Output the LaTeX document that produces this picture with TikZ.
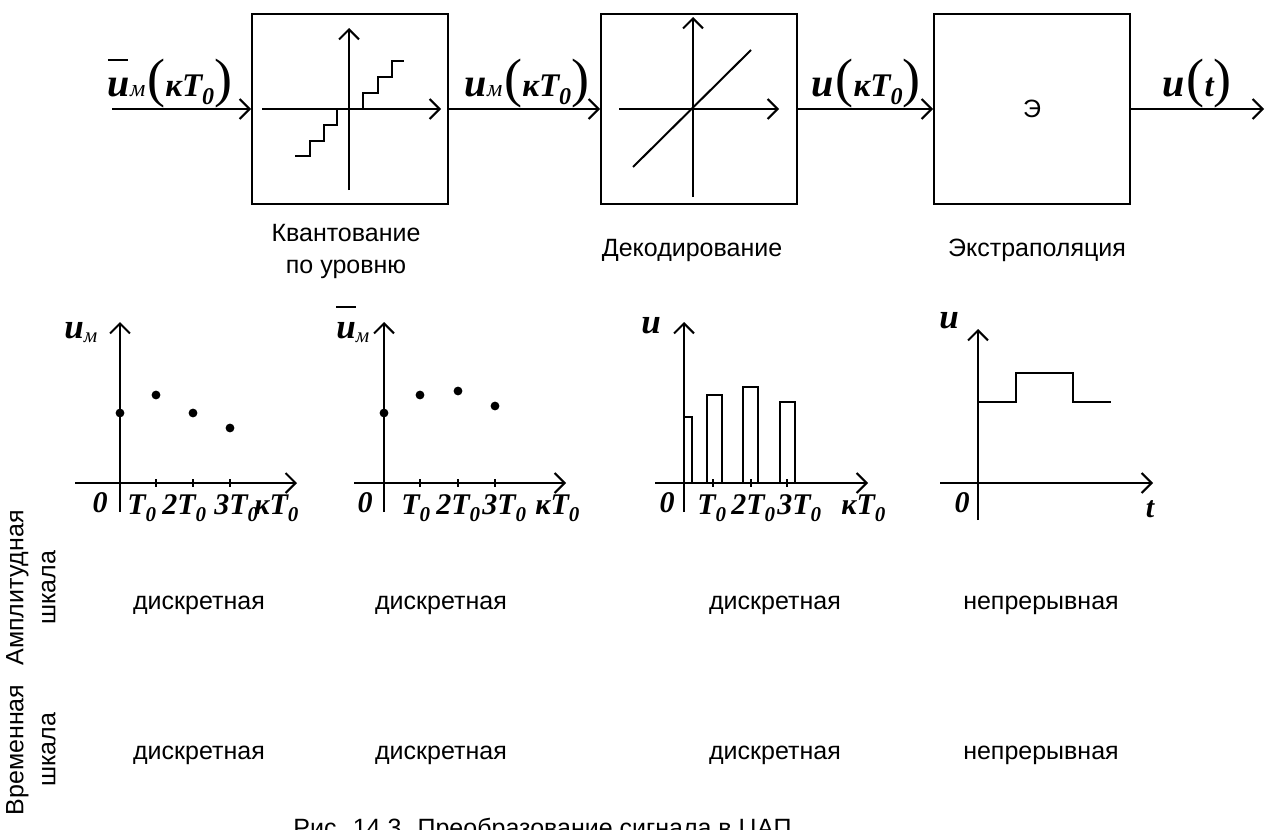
\documentclass[tikz,border=0pt]{standalone}
\usepackage{fontspec}
\setmainfont{Liberation Sans}
\newfontfamily\tms{Liberation Serif}
\usetikzlibrary{arrows.meta}
% top-row formula pieces
\newcommand\mU[1]{{\tms\bfseries\itshape\fontsize{20}{22}\selectfont #1}}
\newcommand\mV[1]{{\tms\bfseries\itshape\fontsize{16.5}{18}\selectfont #1}}
\newcommand\mS[1]{{\tms\itshape\fontsize{12}{14}\selectfont #1}}
\newcommand\mZ[1]{\raisebox{-4pt}{\tms\bfseries\itshape\fontsize{12}{14}\selectfont #1}}
\newcommand\lpar{{\tms\fontsize{27}{27}\selectfont\kern1pt(}}
\newcommand\rpar{{\tms\fontsize{27}{27}\selectfont)}}
% graph labels
\newcommand\gU[1]{{\tms\bfseries\itshape\fontsize{17.5}{19}\selectfont #1}}
\newcommand\gS[1]{\raisebox{-2pt}{\tms\itshape\fontsize{10.5}{12}\selectfont #1}}
\newcommand\gT[1]{{\tms\bfseries\itshape\fontsize{15}{17}\selectfont #1}}
\newcommand\gZ{\raisebox{-3.5pt}{\tms\bfseries\itshape\fontsize{10.5}{12}\selectfont 0}}
\newcommand\ubar[2]{\rlap{\raisebox{#1}{\rule{10pt}{1pt}}}#2}
\begin{document}
\begin{tikzpicture}[x=0.5pt,y=-0.5pt,
  ln/.style={line width=1pt},
  arr/.style={line width=1pt,-{Straight Barb[length=5pt,width=10pt]}},
  blk/.style={draw,line width=1pt,minimum width=98pt,minimum height=95pt,inner sep=0pt},
  txt/.style={font=\fontsize{12.5}{16}\selectfont,inner sep=0pt,align=center},
  lbl/.style={inner sep=0pt},
  dot/.style={circle,fill,inner sep=0pt,minimum size=4.4pt},
  bar/.style={line width=1pt}]
\useasboundingbox (0,0) rectangle (1266,830);
\clip (0,0) rectangle (1266,830);

% ---------- block chain ----------
\node[blk] (b1) at (350,109) {};
\node[blk] (b2) at (699,109) {};
\node[blk,font=\fontsize{12.5}{15}\selectfont] (b3) at (1032,109) {Э};
\coordinate (in) at (112,109);
\coordinate (out) at (1264,109);
\draw[arr] (in) -- (b1.west);
\draw[arr] (b1.east) -- (b2.west);
\draw[arr] (b2.east) -- (b3.west);
\draw[arr] (b3.east) -- (out);

\node[lbl,anchor=base] (l1) at (170,97) {\ubar{18pt}{\mU{u}}\mS{м}\lpar\mV{кT}\mZ{0}\rpar};
\node[lbl,anchor=base] (l2) at (527,97) {\mU{u}\mS{м}\lpar\mV{кT}\mZ{0}\rpar};
\node[lbl,anchor=base] (l3) at (866,97) {\mU{u}\lpar\mV{кT}\mZ{0}\rpar};
\node[lbl,anchor=base] (l4) at (1197,97) {\mU{u}\lpar\mV{t}\rpar};

% quantizer characteristic
\draw[arr] (262,109) -- (441,109);
\draw[arr] (349,190) -- (349,28);
\draw[ln] (295,156) -- (310,156) -- (310,141) -- (324,141) -- (324,125) -- (337,125)
  -- (337,109) -- (363,109) -- (363,93) -- (378,93) -- (378,77) -- (392,77) -- (392,61) -- (404,61);
% decoder characteristic
\draw[arr] (619,109) -- (779,109);
\draw[arr] (693,197) -- (693,17);
\draw[ln] (633,167) -- (751,50);

\node[txt] (t1) at (346,251) {Квантование\\по уровню};
\node[txt] (t2) at (692,250) {Декодирование};
\node[txt] (t3) at (1037,250) {Экстраполяция};

% ---------- graph 1 ----------
\draw[arr] (75,483) -- (297,483);
\draw[arr] (120,512) -- (120,322);
\foreach \x in {156,193,230} \draw[ln] (\x,479) -- (\x,487);
\node[dot] at (120,413) {};
\node[dot] at (156,395) {};
\node[dot] at (193,413) {};
\node[dot] at (230,428) {};
\node[lbl,anchor=base west] at (64,338) {\gU{u}\gS{м}};
\node[lbl,anchor=base] at (100,512) {\gT{0}};
\node[lbl,anchor=base west] at (127,514) {\gT{T}\gZ};
\node[lbl,anchor=base west] at (162,514) {\gT{2T}\gZ};
\node[lbl,anchor=base west] at (214,514) {\gT{3T}\gZ};
\node[lbl,anchor=base west] at (254,514) {\gT{кT}\gZ};

% ---------- graph 2 ----------
\draw[arr] (354,483) -- (566,483);
\draw[arr] (384,512) -- (384,322);
\foreach \x in {420,458,495} \draw[ln] (\x,479) -- (\x,487);
\node[dot] at (384,413) {};
\node[dot] at (420,395) {};
\node[dot] at (458,391) {};
\node[dot] at (495,406) {};
\node[lbl,anchor=base west] at (336,338) {\ubar{15pt}{\gU{u}}\gS{м}};
\node[lbl,anchor=base] at (365,512) {\gT{0}};
\node[lbl,anchor=base west] at (401,514) {\gT{T}\gZ};
\node[lbl,anchor=base west] at (436,514) {\gT{2T}\gZ};
\node[lbl,anchor=base west] at (482,514) {\gT{3T}\gZ};
\node[lbl,anchor=base west] at (535,514) {\gT{кT}\gZ};

% ---------- graph 3 ----------
\draw[arr] (655,483) -- (868,483);
\draw[arr] (684,512) -- (684,322);
\foreach \x in {713,751,787} \draw[ln] (\x,479) -- (\x,487);
\draw[bar] (684,417) -- (692,417) -- (692,483);
\draw[bar] (707,483) rectangle (722,395);
\draw[bar] (743,483) rectangle (758,387);
\draw[bar] (780,483) rectangle (795,402);
\node[lbl,anchor=base west] at (641,333) {\gU{u}};
\node[lbl,anchor=base] at (667,512) {\gT{0}};
\node[lbl,anchor=base west] at (697,514) {\gT{T}\gZ};
\node[lbl,anchor=base west] at (731,514) {\gT{2T}\gZ};
\node[lbl,anchor=base west] at (777,514) {\gT{3T}\gZ};
\node[lbl,anchor=base west] at (841,514) {\gT{кT}\gZ};

% ---------- graph 4 ----------
\draw[arr] (940,483) -- (1153,483);
\draw[arr] (978,520) -- (978,329);
\draw[ln] (978,402) -- (1016,402) -- (1016,373) -- (1073,373) -- (1073,402) -- (1111,402);
\node[lbl,anchor=base west] at (939,328) {\gU{u}};
\node[lbl,anchor=base] at (962,512) {\gT{0}};
\node[lbl,anchor=base] at (1150,517) {\gT{t}};

% ---------- scale rows ----------
\node[txt,rotate=90] (ra) at (31,588) {Амплитудная\\шкала};
\node[txt,rotate=90] (rt) at (31,750) {Временная\\шкала};
\node[txt] at (199,605) {дискретная};
\node[txt] at (441,605) {дискретная};
\node[txt] at (775,605) {дискретная};
\node[txt] at (1041,605) {непрерывная};
\node[txt] at (199,755) {дискретная};
\node[txt] at (441,755) {дискретная};
\node[txt] at (775,755) {дискретная};
\node[txt] at (1041,755) {непрерывная};

\node[txt,anchor=base west] (cap) at (293,836) {Рис. 14.3. Преобразование сигнала в ЦАП};
\end{tikzpicture}
\end{document}
